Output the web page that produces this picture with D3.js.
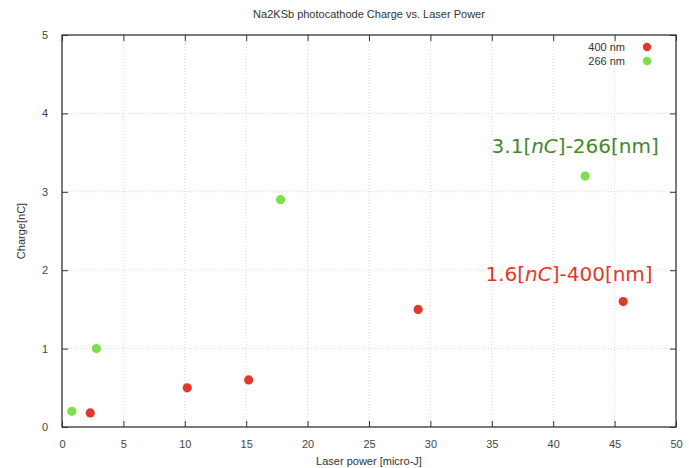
<!DOCTYPE html>
<html>
<head>
<meta charset="utf-8">
<script src="https://cdn.jsdelivr.net/npm/d3@7"></script>
<style>
  body { margin: 0; background: #fff; }
  text { font-family: "Liberation Sans", Arial, sans-serif; }
  .grid line { stroke: #d8d8d8; stroke-dasharray: 1,2; }
  .axis text { fill: #444; font-size: 11px; }
  .axis line, .axis path { stroke: #333; }
  .ann { font-family: "DejaVu Sans", sans-serif; font-size: 20px; }
</style>
</head>
<body>
<div id="chart"></div>
<script>
// data
const power400 = [2.3, 10.2, 15.2, 29.0, 45.7];
const charge400 = [0.18, 0.5, 0.6, 1.5, 1.6];
const power266 = [0.8, 2.8, 17.8, 42.6];
const charge266 = [0.2, 1.0, 2.9, 3.2];
const xTicks = [0, 5, 10, 15, 20, 25, 30, 35, 40, 45, 50];
const yTicks = [0, 1, 2, 3, 4, 5];

const W = 689, H = 468;
const margin = { top: 35, right: 13, bottom: 41, left: 62 };
const width = W - margin.left - margin.right;
const height = H - margin.top - margin.bottom;

const red = "#e0392b", green = "#7be04c";

const svg = d3.select("#chart").append("svg")
  .attr("width", W).attr("height", H);

const x = d3.scaleLinear().domain([0, 50]).range([0, width]);
const y = d3.scaleLinear().domain([0, 5]).range([height, 0]);

const g = svg.append("g").attr("transform", `translate(${margin.left},${margin.top})`);

// grid
g.append("g").attr("class", "grid")
  .selectAll("line").data(xTicks.slice(1, -1)).enter().append("line")
    .attr("x1", d => x(d)).attr("x2", d => x(d))
    .attr("y1", 0).attr("y2", height);
g.append("g").attr("class", "grid")
  .selectAll("line").data(yTicks.slice(1, -1)).enter().append("line")
    .attr("y1", d => y(d)).attr("y2", d => y(d))
    .attr("x1", 0).attr("x2", width);

// axes with inward ticks (gnuplot style)
g.append("g").attr("class", "axis")
  .attr("transform", `translate(0,${height})`)
  .call(d3.axisBottom(x).tickValues(xTicks).tickSize(-6).tickPadding(13))
  .call(a => a.select(".domain").remove());
g.append("g").attr("class", "axis")
  .call(d3.axisTop(x).tickValues(xTicks).tickSize(-6).tickFormat(""))
  .call(a => a.select(".domain").remove());
g.append("g").attr("class", "axis")
  .call(d3.axisLeft(y).tickValues(yTicks).tickSize(-6).tickPadding(14).tickFormat(d3.format("d")))
  .call(a => a.select(".domain").remove());
g.append("g").attr("class", "axis")
  .attr("transform", `translate(${width},0)`)
  .call(d3.axisRight(y).tickValues(yTicks).tickSize(-6).tickFormat(""))
  .call(a => a.select(".domain").remove());

g.append("rect")
  .attr("width", width).attr("height", height)
  .attr("fill", "none").attr("stroke", "#333").attr("stroke-width", 1.3);

// points
g.selectAll(".p400").data(power400).enter().append("circle")
  .attr("cx", d => x(d)).attr("cy", (d, i) => y(charge400[i]))
  .attr("r", 4.6).attr("fill", red);
g.selectAll(".p266").data(power266).enter().append("circle")
  .attr("cx", d => x(d)).attr("cy", (d, i) => y(charge266[i]))
  .attr("r", 4.6).attr("fill", green);

// legend
const legend = [{ name: "400 nm", c: red }, { name: "266 nm", c: green }];
const lg = g.selectAll(".lg").data(legend).enter().append("g")
  .attr("transform", (d, i) => `translate(${width - 43},${12 + i * 14})`);
lg.append("text").attr("x", -8).attr("dy", "0.35em")
  .attr("text-anchor", "end").attr("font-size", 11).attr("fill", "#333")
  .text(d => d.name);
lg.append("circle").attr("cx", 14).attr("r", 4.2).attr("fill", d => d.c);

// annotations
const a1 = g.append("text").attr("class", "ann")
  .attr("x", x(48.6)).attr("y", y(3.5)).attr("text-anchor", "end").attr("fill", "#3f8a2a");
a1.append("tspan").text("3.1[");
a1.append("tspan").attr("font-style", "italic").text("nC");
a1.append("tspan").text("]-266[nm]");
const a2 = g.append("text").attr("class", "ann")
  .attr("x", x(48.1)).attr("y", y(1.86)).attr("text-anchor", "end").attr("fill", red);
a2.append("tspan").text("1.6[");
a2.append("tspan").attr("font-style", "italic").text("nC");
a2.append("tspan").text("]-400[nm]");

// titles
svg.append("text").attr("x", margin.left + width / 2).attr("y", 18)
  .attr("text-anchor", "middle").attr("font-size", 11).attr("fill", "#333")
  .text("Na2KSb photocathode Charge vs. Laser Power");
svg.append("text").attr("x", margin.left + width / 2).attr("y", 465)
  .attr("text-anchor", "middle").attr("font-size", 11).attr("fill", "#333")
  .text("Laser power [micro-J]");
svg.append("text")
  .attr("transform", `translate(25,${margin.top + height / 2}) rotate(-90)`)
  .attr("text-anchor", "middle").attr("font-size", 11).attr("fill", "#333")
  .text("Charge[nC]");
</script>
</body>
</html>
